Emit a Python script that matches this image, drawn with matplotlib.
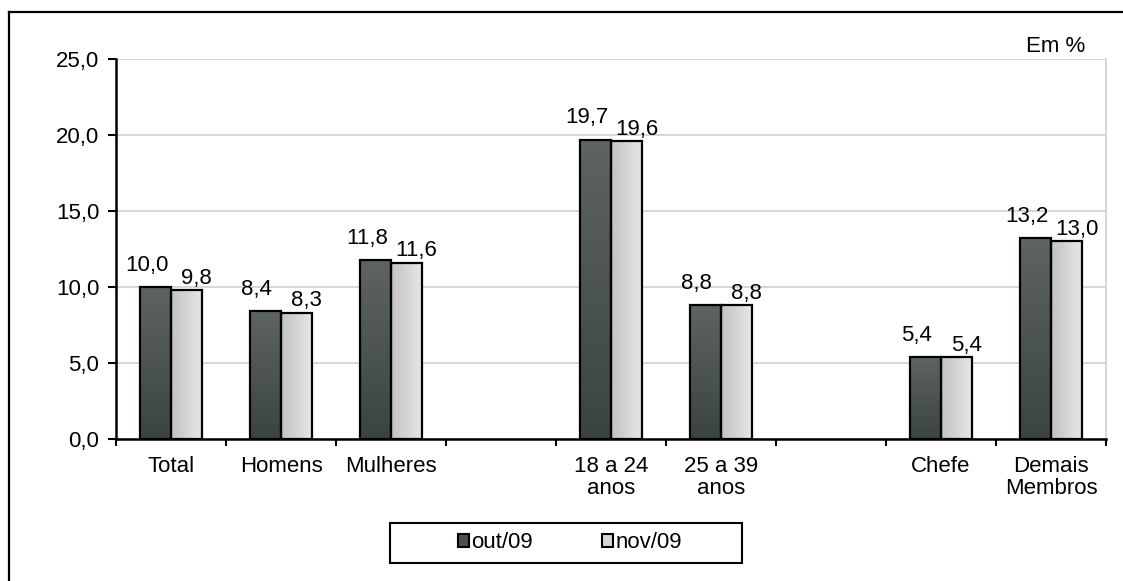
import numpy as np
import matplotlib
matplotlib.use("Agg")
import matplotlib.pyplot as plt
import matplotlib.patches as mpatches
from matplotlib.lines import Line2D

plt.rcParams["font.family"] = ["Liberation Sans", "DejaVu Sans"]

categories = ["Total", "Homens", "Mulheres", "", "18 a 24\nanos", "25 a 39\nanos",
              "", "Chefe", "Demais\nMembros"]
out09 = [10.0, 8.4, 11.8, None, 19.7, 8.8, None, 5.4, 13.2]
nov09 = [9.8, 8.3, 11.6, None, 19.6, 8.8, None, 5.4, 13.0]
series_names = ["out/09", "nov/09"]

W, H = 1123, 581
FS = 16
fig = plt.figure(figsize=(W / 100, H / 100), dpi=100)
fig.patch.set_facecolor("white")
ax = fig.add_axes([116 / W, 1 - 439 / H, 990 / W, 380 / H])

bw = 0.286
x = np.arange(len(categories))

# vertical gradient for the dark bars, horizontal for the light ones
dark_grad = np.linspace(0, 1, 64).reshape(-1, 1)
light_grad = np.linspace(0, 1, 64).reshape(1, -1)
dark_cmap = matplotlib.colors.LinearSegmentedColormap.from_list("d", ["#3b4343", "#5e6464"])
light_cmap = matplotlib.colors.LinearSegmentedColormap.from_list("l", ["#c2c2c2", "#e8e8e8"])


def grad_bar(x0, h, grad, cmap):
    im = ax.imshow(grad, cmap=cmap, extent=(x0, x0 + bw, 0, h), origin="lower",
                   aspect="auto", zorder=2, interpolation="bicubic")
    rect = mpatches.Rectangle((x0, 0), bw, h, facecolor="none", edgecolor="black",
                              linewidth=1.6, zorder=3)
    ax.add_patch(rect)
    im.set_clip_path(rect)


for i in range(len(categories)):
    if out09[i] is None:
        continue
    grad_bar(x[i] - bw, out09[i], dark_grad, dark_cmap)
    grad_bar(x[i], nov09[i], light_grad, light_cmap)
    ax.annotate(f"{out09[i]:.1f}".replace(".", ","), (x[i] - bw / 2, out09[i]),
                xytext=(-6, 8), textcoords="offset points", ha="center", va="bottom",
                fontsize=FS)
    ax.annotate(f"{nov09[i]:.1f}".replace(".", ","), (x[i] + bw / 2, nov09[i]),
                xytext=(7, 1), textcoords="offset points", ha="center", va="bottom",
                fontsize=FS)

ax.set_xlim(-0.5, len(categories) - 0.5)
ax.set_ylim(0, 25)

ax.set_yticks(np.arange(0, 26, 5))
ax.set_yticklabels([f"{v:.1f}".replace(".", ",") for v in np.arange(0, 26, 5)], fontsize=FS)
ax.yaxis.grid(True, color="#d0d0d0", linewidth=1.2)
ax.set_axisbelow(True)

ax.set_xticks(np.arange(-0.5, len(categories), 1.0))
ax.set_xticklabels([])
ax.set_xticks(x, minor=True)
ax.set_xticklabels(categories, minor=True, fontsize=FS, linespacing=1.1)
ax.tick_params(axis="x", which="major", length=5, width=1.5, direction="out")
ax.tick_params(axis="x", which="minor", length=0, pad=12)
ax.tick_params(axis="y", length=6, width=1.5, direction="out", pad=6)

for s in ["left", "bottom"]:
    ax.spines[s].set_linewidth(1.8)
    ax.spines[s].set_color("black")
ax.spines["right"].set_color("#d0d0d0")
ax.spines["right"].set_linewidth(1.2)
ax.spines["top"].set_visible(False)

fig.text(1056 / W, 1 - 47 / H, "Em %", ha="center", va="center", fontsize=FS)

# legend
handles = [mpatches.Patch(facecolor="#4a5151", edgecolor="black", linewidth=1.5),
           mpatches.Patch(facecolor="#d6d6d6", edgecolor="black", linewidth=1.5)]
leg = fig.legend(handles, series_names, loc="center", bbox_to_anchor=(570 / W, 1 - 543 / H),
                 ncol=2, frameon=False, fontsize=FS, handlelength=0.5, handleheight=0.5,
                 handletextpad=0.1, columnspacing=3.1)
fig.add_artist(mpatches.Rectangle((390 / W, 1 - 563 / H), 352 / W, 40 / H,
                                  transform=fig.transFigure, facecolor="none",
                                  edgecolor="black", linewidth=1.5))

# outer frame (top and left edges)
fig.add_artist(Line2D([9 / W, 1.0], [1 - 12 / H, 1 - 12 / H], transform=fig.transFigure,
                      color="black", linewidth=1.6))
fig.add_artist(Line2D([9 / W, 9 / W], [0, 1 - 12 / H], transform=fig.transFigure,
                      color="black", linewidth=1.6))

fig.savefig("out.png", dpi=100, facecolor="white")
